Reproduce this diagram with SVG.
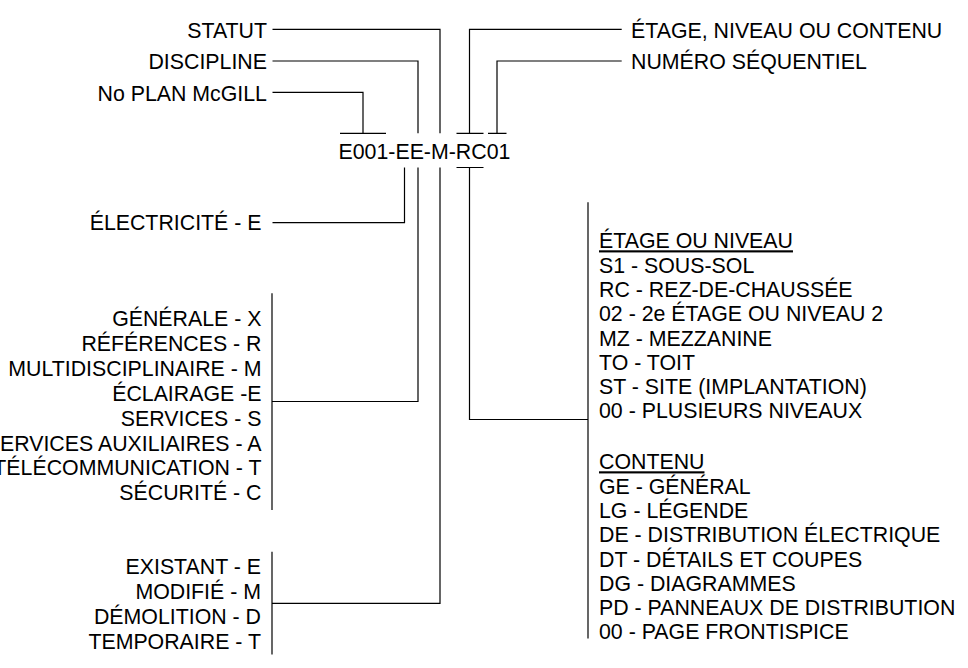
<svg xmlns="http://www.w3.org/2000/svg" width="968" height="668" viewBox="0 0 968 668">
<style>
text{font-family:"Liberation Sans",Arial,sans-serif;font-size:21.33px;fill:#000}
.r{text-anchor:end}
.u{text-decoration:underline}
.c{fill:none;stroke:#000;stroke-width:1.2}
</style>
<rect width="968" height="668" fill="#fff"/>
<g id="connectors" class="c">
<path d="M272.5 29.3H440V133.3"/>
<path d="M272.5 61H418V133.3"/>
<path d="M272.5 92.3H363V133.3M340 133.3H386"/>
<path d="M621.7 29.3H469.5V133.3M456.5 133.3H483.5"/>
<path d="M621.7 61H497V133.3M488 133.3H506.5"/>
<path d="M456.5 167.5H483.5M469.5 167.5V419.5H588"/>
<path d="M404.5 167.5V222.7H272.5"/>
<path d="M418 167.5V401.5H272"/>
<path d="M440 167.5V603.3H272"/>
<path d="M272 293.3V510"/>
<path d="M272 551.7V654.5"/>
<path d="M588 202.2V638.5"/>
</g>
<g id="code"><text x="338.5" y="159">E001-EE-M-RC01</text></g>
<g id="statut"><text class="r" x="267" y="37.5">STATUT</text></g>
<g id="discipline"><text class="r" x="267" y="69">DISCIPLINE</text></g>
<g id="noplan"><text class="r" x="267" y="100.5">No PLAN McGILL</text></g>
<g id="etage"><text x="631" y="37.5">ÉTAGE, NIVEAU OU CONTENU</text></g>
<g id="numero"><text x="631" y="69">NUMÉRO SÉQUENTIEL</text></g>
<g id="electricite"><text class="r" x="261.5" y="230.2">ÉLECTRICITÉ - E</text></g>
<g id="sous-discipline">
<text class="r" x="261.5" y="326">GÉNÉRALE - X</text>
<text class="r" x="261.5" y="350.9">RÉFÉRENCES - R</text>
<text class="r" x="261.5" y="375.8">MULTIDISCIPLINAIRE - M</text>
<text class="r" x="261.5" y="400.7">ÉCLAIRAGE -E</text>
<text class="r" x="261.5" y="425.6">SERVICES - S</text>
<text class="r" x="261.5" y="450.5">SERVICES AUXILIAIRES - A</text>
<text class="r" x="261.5" y="475.4">TÉLÉCOMMUNICATION - T</text>
<text class="r" x="261.5" y="500.3">SÉCURITÉ - C</text>
</g>
<g id="statut-list">
<text class="r" x="261" y="574.3">EXISTANT - E</text>
<text class="r" x="261" y="599.2">MODIFIÉ - M</text>
<text class="r" x="261" y="624.1">DÉMOLITION - D</text>
<text class="r" x="261" y="649">TEMPORAIRE - T</text>
</g>
<g id="niveau-list">
<text class="u" x="599" y="248.3">ÉTAGE OU NIVEAU</text>
<text x="599" y="272.6">S1 - SOUS-SOL</text>
<text x="599" y="296.9">RC - REZ-DE-CHAUSSÉE</text>
<text x="599" y="321.2">02 - 2e ÉTAGE OU NIVEAU 2</text>
<text x="599" y="345.5">MZ - MEZZANINE</text>
<text x="599" y="369.8">TO - TOIT</text>
<text x="599" y="394.1">ST - SITE (IMPLANTATION)</text>
<text x="599" y="418.4">00 - PLUSIEURS NIVEAUX</text>
</g>
<g id="contenu-list">
<text class="u" x="599" y="469.3">CONTENU</text>
<text x="599" y="493.6">GE - GÉNÉRAL</text>
<text x="599" y="517.9">LG - LÉGENDE</text>
<text x="599" y="542.2">DE - DISTRIBUTION ÉLECTRIQUE</text>
<text x="599" y="566.5">DT - DÉTAILS ET COUPES</text>
<text x="599" y="590.8">DG - DIAGRAMMES</text>
<text x="599" y="615.1">PD - PANNEAUX DE DISTRIBUTION</text>
<text x="599" y="639.4">00 - PAGE FRONTISPICE</text>
</g>
</svg>
